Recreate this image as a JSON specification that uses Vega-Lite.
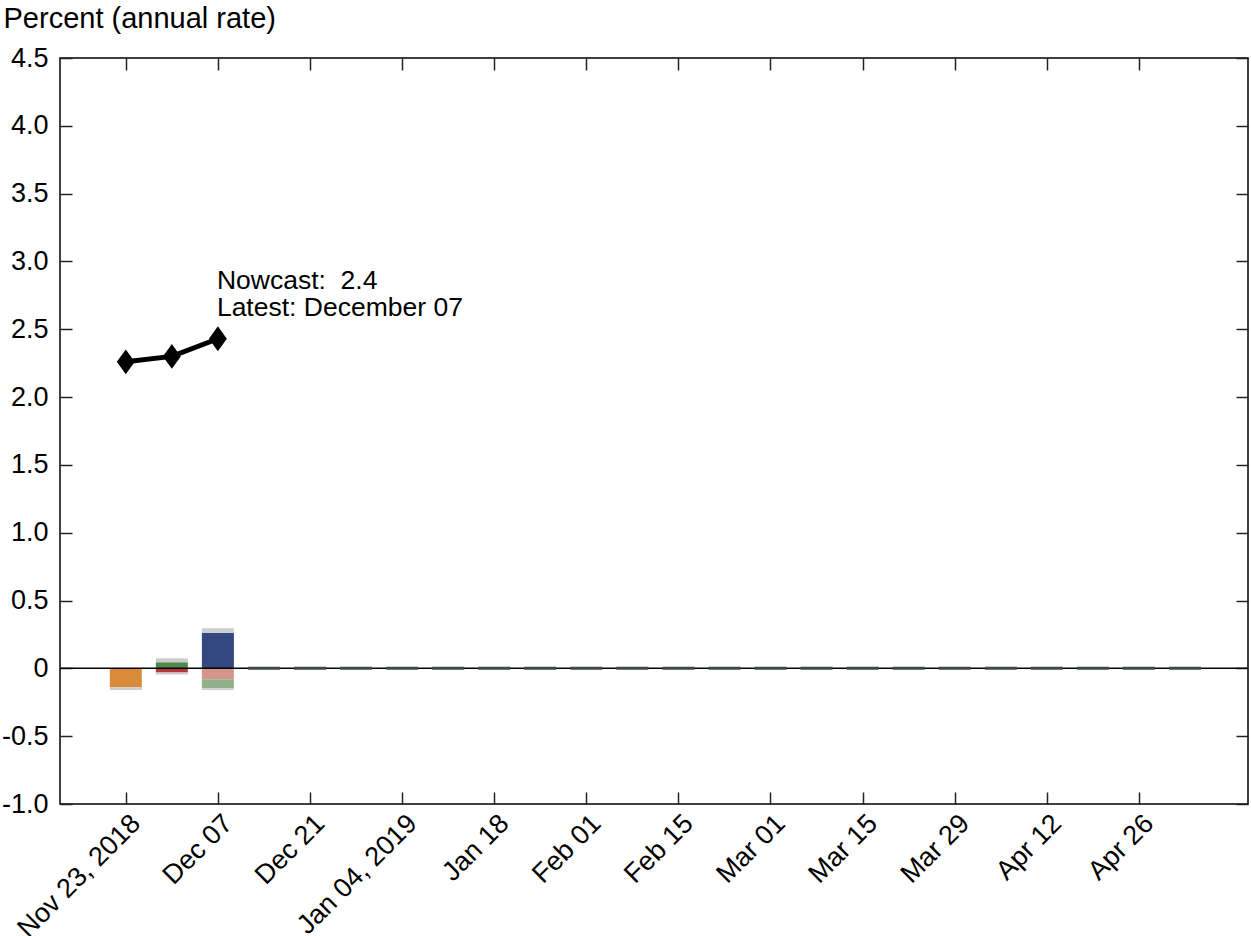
{
  "$schema": "https://vega.github.io/schema/vega-lite/v6.json",
  "width": 1188,
  "height": 746,
  "autosize": "none",
  "padding": {"left": 60, "top": 58, "right": 3, "bottom": 132},
  "config": {
    "font": "Liberation Sans",
    "view": {"stroke": "black", "strokeWidth": 1.5},
    "axis": {
      "grid": false,
      "domain": false,
      "tickColor": "#222222",
      "tickWidth": 1.5,
      "tickSize": -12,
      "labelFontSize": 27,
      "labelColor": "black",
      "labelFont": "Liberation Sans",
      "labelOverlap": false,
      "labelBound": false,
      "labelFlush": false
    }
  },
  "datasets": {
    "impacts": [
      {"week": "2018-11-23", "category": "Housing and construction", "impact": -0.14},
      {"week": "2018-11-23", "category": "Others", "impact": -0.02},
      {"week": "2018-11-30", "category": "Income", "impact": 0.045},
      {"week": "2018-11-30", "category": "Others", "impact": 0.03},
      {"week": "2018-11-30", "category": "International trade", "impact": -0.03},
      {"week": "2018-11-30", "category": "Others", "impact": -0.015},
      {"week": "2018-12-07", "category": "Labor", "impact": 0.26},
      {"week": "2018-12-07", "category": "Others", "impact": 0.035},
      {"week": "2018-12-07", "category": "Manufacturing", "impact": -0.08},
      {"week": "2018-12-07", "category": "Net exports", "impact": -0.067},
      {"week": "2018-12-07", "category": "Others", "impact": -0.013}
    ],
    "flat": [
      {"week": "2018-12-14"}, {"week": "2018-12-21"}, {"week": "2018-12-28"},
      {"week": "2019-01-04"}, {"week": "2019-01-11"}, {"week": "2019-01-18"},
      {"week": "2019-01-25"}, {"week": "2019-02-01"}, {"week": "2019-02-08"},
      {"week": "2019-02-15"}, {"week": "2019-02-22"}, {"week": "2019-03-01"},
      {"week": "2019-03-08"}, {"week": "2019-03-15"}, {"week": "2019-03-22"},
      {"week": "2019-03-29"}, {"week": "2019-04-05"}, {"week": "2019-04-12"},
      {"week": "2019-04-19"}, {"week": "2019-04-26"}, {"week": "2019-05-03"}
    ],
    "nowcast": [
      {"week": "2018-11-23", "nowcast": 2.26},
      {"week": "2018-11-30", "nowcast": 2.30},
      {"week": "2018-12-07", "nowcast": 2.43}
    ]
  },
  "resolve": {"axis": {"x": "independent", "y": "independent"}},
  "layer": [
    {
      "data": {"name": "impacts"},
      "mark": {"type": "bar", "size": 32},
      "encoding": {
        "x": {
          "field": "week", "type": "temporal",
          "scale": {"type": "utc", "padding": 0, "domain": [
            {"year": 2018, "month": 11, "date": 13, "utc": true},
            {"year": 2019, "month": 5, "date": 12, "hours": 14, "utc": true}
          ]},
          "axis": {
            "orient": "bottom",
            "title": null,
            "values": [
              {"year": 2018, "month": 11, "date": 23, "utc": true},
              {"year": 2018, "month": 12, "date": 7, "utc": true},
              {"year": 2018, "month": 12, "date": 21, "utc": true},
              {"year": 2019, "month": 1, "date": 4, "utc": true},
              {"year": 2019, "month": 1, "date": 18, "utc": true},
              {"year": 2019, "month": 2, "date": 1, "utc": true},
              {"year": 2019, "month": 2, "date": 15, "utc": true},
              {"year": 2019, "month": 3, "date": 1, "utc": true},
              {"year": 2019, "month": 3, "date": 15, "utc": true},
              {"year": 2019, "month": 3, "date": 29, "utc": true},
              {"year": 2019, "month": 4, "date": 12, "utc": true},
              {"year": 2019, "month": 4, "date": 26, "utc": true}
            ],
            "labelAngle": -45,
            "labelAlign": "right",
            "labelBaseline": "middle",
            "labelPadding": 27,
            "labelOffset": 10,
            "labelExpr": "(datum.index == 0 || (utcmonth(datum.value) == 0 && utcdate(datum.value) <= 7)) ? utcFormat(datum.value, '%b %d, %Y') : utcFormat(datum.value, '%b %d')"
          }
        },
        "y": {
          "field": "impact", "type": "quantitative", "stack": "zero",
          "scale": {"domain": [-1, 4.5], "nice": false, "zero": false},
          "axis": {
            "orient": "left",
            "values": [-1, -0.5, 0, 0.5, 1, 1.5, 2, 2.5, 3, 3.5, 4, 4.5],
            "labelExpr": "datum.value == 0 ? '0' : (datum.value < 0 ? '-' : '') + format(abs(datum.value), '.1f')",
            "labelPadding": 24,
            "title": "Percent (annual rate)",
            "titleAngle": 0,
            "titleAlign": "left",
            "titleBaseline": "alphabetic",
            "titleX": -57,
            "titleY": -31,
            "titleFontSize": 29,
            "titleFontWeight": "normal",
            "titleColor": "black",
            "titleFont": "Liberation Sans"
          }
        },
        "color": {
          "field": "category", "type": "nominal", "legend": null,
          "scale": {
            "domain": ["Housing and construction", "Income", "International trade", "Labor", "Manufacturing", "Net exports", "Others"],
            "range": ["#D98B3A", "#4F8A4B", "#B5393B", "#34477F", "#D5958A", "#93B08C", "#CDCDD0"]
          }
        },
        "order": {"field": "category", "sort": "ascending"}
      }
    },
    {
      "data": {"values": [{}]},
      "mark": {"type": "rule", "color": "black", "strokeWidth": 1.5},
      "encoding": {"y": {"datum": 0, "type": "quantitative", "axis": null}}
    },
    {
      "data": {"name": "flat"},
      "mark": {"type": "tick", "orient": "horizontal", "size": 32, "thickness": 3, "color": "#3d4a45", "opacity": 1},
      "encoding": {
        "x": {"field": "week", "type": "temporal", "axis": null},
        "y": {"datum": 0, "type": "quantitative", "axis": null}
      }
    },
    {
      "data": {"name": "nowcast"},
      "mark": {"type": "line", "color": "black", "strokeWidth": 5},
      "encoding": {
        "x": {"field": "week", "type": "temporal", "axis": null},
        "y": {"field": "nowcast", "type": "quantitative", "axis": null}
      }
    },
    {
      "data": {"name": "nowcast"},
      "mark": {"type": "point", "shape": "M0,-1L0.72,0L0,1L-0.72,0Z", "filled": true, "color": "black", "opacity": 1, "size": 620},
      "encoding": {
        "x": {"field": "week", "type": "temporal", "axis": null},
        "y": {"field": "nowcast", "type": "quantitative", "axis": null}
      }
    },
    {
      "data": {"name": "nowcast"},
      "transform": [{"filter": {"field": "week", "equal": {"year": 2018, "month": 12, "date": 7, "utc": true}}}],
      "mark": {"type": "text", "align": "left", "baseline": "alphabetic", "dy": -50, "dx": -1, "fontSize": 26.5, "lineHeight": 27, "color": "black", "font": "Liberation Sans"},
      "encoding": {
        "x": {"field": "week", "type": "temporal", "axis": null},
        "y": {"field": "nowcast", "type": "quantitative", "axis": null},
        "text": {"value": ["Nowcast:\u00a0 2.4", "Latest: December 07"]}
      }
    },
    {
      "data": {"name": "nowcast"},
      "mark": {"type": "point", "opacity": 0},
      "encoding": {
        "x": {
          "field": "week", "type": "temporal",
          "axis": {
            "orient": "top", "title": null, "labels": false,
            "values": [
              {"year": 2018, "month": 11, "date": 23, "utc": true},
              {"year": 2018, "month": 12, "date": 7, "utc": true},
              {"year": 2018, "month": 12, "date": 21, "utc": true},
              {"year": 2019, "month": 1, "date": 4, "utc": true},
              {"year": 2019, "month": 1, "date": 18, "utc": true},
              {"year": 2019, "month": 2, "date": 1, "utc": true},
              {"year": 2019, "month": 2, "date": 15, "utc": true},
              {"year": 2019, "month": 3, "date": 1, "utc": true},
              {"year": 2019, "month": 3, "date": 15, "utc": true},
              {"year": 2019, "month": 3, "date": 29, "utc": true},
              {"year": 2019, "month": 4, "date": 12, "utc": true},
              {"year": 2019, "month": 4, "date": 26, "utc": true}
            ]
          }
        },
        "y": {
          "field": "nowcast", "type": "quantitative",
          "axis": {
            "orient": "right", "title": null, "labels": false,
            "values": [-1, -0.5, 0, 0.5, 1, 1.5, 2, 2.5, 3, 3.5, 4, 4.5]
          }
        }
      }
    }
  ]
}
